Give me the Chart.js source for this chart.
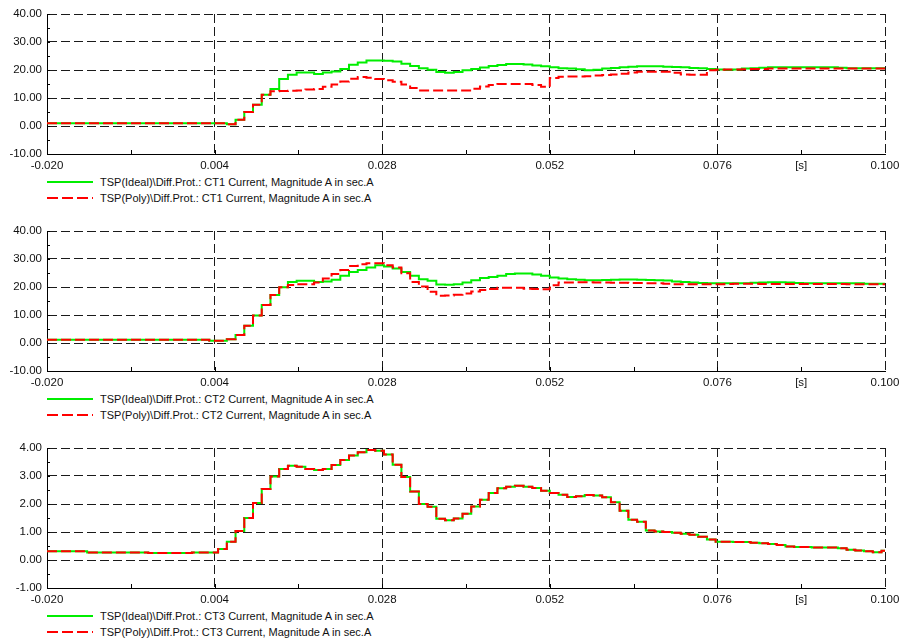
<!DOCTYPE html>
<html><head><meta charset="utf-8">
<script src="https://cdn.jsdelivr.net/npm/chart.js@4.4.1/dist/chart.umd.min.js"></script>
<style>
html,body{margin:0;padding:0;background:#fff;}
body{width:901px;height:639px;position:relative;overflow:hidden;font-family:'Liberation Sans',Arial,sans-serif;}
.box{position:absolute;left:0;width:901px;height:174px;}
.lg{position:absolute;left:0;width:901px;height:16px;}
.lg svg{position:absolute;left:47px;top:6px;}
.lg span{position:absolute;left:100px;top:0;font-size:11px;line-height:16px;color:#111;white-space:nowrap;}
</style></head><body>
<div class="box" style="top:0"><canvas id="c1"></canvas></div>
<div class="box" style="top:217px"><canvas id="c2"></canvas></div>
<div class="box" style="top:434px"><canvas id="c3"></canvas></div>
<div id="legends"></div>
<script>
// sample times [s]
const times = [-0.020,-0.01925,-0.018,-0.01675,-0.0155,-0.01425,-0.013,-0.01175,-0.0105,-0.00925,
-0.008,-0.00675,-0.0055,-0.00425,-0.003,-0.00175,-0.0005,0.00075,0.002,0.00325,
0.0045,0.00575,0.007,0.00825,0.0095,0.01075,0.012,0.01325,0.0145,0.01575,
0.017,0.01825,0.0195,0.02075,0.022,0.02325,0.0245,0.02575,0.027,0.02825,
0.0295,0.03075,0.032,0.03325,0.0345,0.03575,0.037,0.03825,0.0395,0.04075,
0.042,0.04325,0.0445,0.04575,0.047,0.04825,0.0495,0.05075,0.052,0.05325,
0.0545,0.05575,0.057,0.05825,0.0595,0.06075,0.062,0.06325,0.0645,0.06575,
0.067,0.06825,0.0695,0.07075,0.072,0.07325,0.0745,0.07575,0.077,0.07825,
0.0795,0.08075,0.082,0.08325,0.0845,0.08575,0.087,0.08825,0.0895,0.09075,
0.092,0.09325,0.0945,0.09575,0.097,0.09825,0.0995,0.100];

const ct1Ideal = [1.0,1.0,1.0,1.0,1.0,1.0,1.0,1.0,1.0,1.0,
1.0,1.0,1.0,1.0,1.0,1.0,1.0,1.0,1.0,1.0,
1.0,0.6,2.2,5.0,7.6,11.2,13.2,16.8,18.3,19.1,
19.1,18.6,19.1,19.5,20.4,21.9,22.7,23.4,23.4,23.3,
23.0,22.2,21.4,20.6,20.1,19.3,19.0,19.3,19.9,20.4,
20.9,21.4,21.8,22.1,22.1,22.0,21.6,21.3,21.0,20.6,
20.5,20.3,19.9,20.1,20.5,20.7,21.0,21.2,21.3,21.3,
21.3,21.2,21.1,21.0,20.7,20.6,20.4,20.2,20.1,20.2,
20.5,20.6,20.8,21.0,21.0,21.0,21.0,21.0,21.0,21.0,
21.0,20.8,20.6,20.6,20.6,20.6,20.6,20.5];

const ct1Poly = [1.0,1.0,1.0,1.0,1.0,1.0,1.0,1.0,1.0,1.0,
1.0,1.0,1.0,1.0,1.0,1.0,1.0,1.0,1.0,1.0,
1.0,0.6,2.2,5.0,7.6,11.2,12.4,12.5,12.6,12.7,
13.0,13.2,14.0,14.8,15.9,16.9,17.5,17.2,16.8,16.3,
15.8,14.8,13.6,12.7,12.7,12.7,12.7,12.7,12.7,13.3,
14.1,14.6,15.0,15.0,15.0,15.0,14.6,14.0,17.1,17.6,
17.7,17.7,17.8,18.0,18.2,18.4,18.7,19.1,19.4,19.4,
19.4,19.4,19.0,18.4,18.3,18.3,19.9,20.1,20.2,20.2,
20.3,20.4,20.4,20.5,20.5,20.5,20.5,20.5,20.5,20.5,
20.5,20.5,20.5,20.5,20.5,20.5,20.5,20.5];

const ct2Ideal = [1.2,1.2,1.2,1.2,1.2,1.2,1.2,1.2,1.2,1.2,
1.2,1.2,1.2,1.2,1.2,1.2,1.2,1.2,1.2,0.8,
0.8,1.3,2.9,6.2,9.8,13.6,17.1,19.9,21.8,22.2,
22.2,21.8,22.0,22.6,24.0,25.4,26.1,27.0,27.8,27.3,
26.6,25.4,24.0,22.8,22.2,20.9,20.8,21.0,21.6,22.4,
23.2,23.6,24.0,24.6,24.8,24.8,24.5,24.0,23.4,23.0,
22.8,22.6,22.4,22.4,22.5,22.6,22.7,22.7,22.6,22.5,
22.4,22.3,22.0,21.8,21.6,21.4,21.3,21.3,21.3,21.3,
21.3,21.5,21.6,21.7,21.7,21.6,21.4,21.3,21.3,21.3,
21.3,21.3,21.3,21.3,21.2,21.2,21.2,21.2];

const ct2Poly = [1.2,1.2,1.2,1.2,1.2,1.2,1.2,1.2,1.2,1.2,
1.2,1.2,1.2,1.2,1.2,1.2,1.2,1.2,1.2,0.8,
0.8,1.3,2.9,6.2,9.8,13.6,17.1,19.9,20.7,21.0,
21.0,21.6,23.0,24.6,26.1,27.5,28.1,28.5,28.5,27.8,
27.0,24.9,21.8,20.2,18.3,16.9,17.0,17.2,17.7,18.4,
18.9,19.3,19.7,19.7,19.7,19.4,19.3,19.2,20.6,21.6,
21.6,21.7,21.7,21.6,21.6,21.5,21.5,21.4,21.4,21.3,
21.3,21.2,21.0,21.0,21.0,21.0,21.0,21.0,21.1,21.2,
21.2,21.2,21.1,21.1,21.1,21.1,21.1,21.1,21.1,21.1,
21.1,21.1,21.0,21.0,21.0,21.0,21.0,21.0];

const ct3Ideal = [0.31,0.31,0.31,0.31,0.31,0.27,0.27,0.27,0.27,0.27,
0.27,0.27,0.25,0.25,0.25,0.25,0.25,0.27,0.27,0.27,
0.39,0.65,1.04,1.50,2.04,2.54,2.98,3.25,3.37,3.33,
3.25,3.21,3.25,3.39,3.57,3.73,3.85,3.93,3.90,3.77,
3.40,2.96,2.45,2.00,1.90,1.47,1.42,1.48,1.65,1.91,
2.15,2.39,2.56,2.62,2.65,2.62,2.57,2.47,2.39,2.33,
2.25,2.28,2.32,2.30,2.24,2.06,1.76,1.44,1.37,1.05,
1.02,1.00,0.97,0.94,0.90,0.83,0.73,0.65,0.65,0.64,
0.64,0.62,0.60,0.57,0.54,0.48,0.46,0.46,0.45,0.45,
0.45,0.42,0.37,0.34,0.31,0.28,0.33,0.33];

const ct3Poly = [0.31,0.31,0.31,0.31,0.31,0.27,0.27,0.27,0.27,0.27,
0.27,0.27,0.25,0.25,0.25,0.25,0.25,0.27,0.27,0.27,
0.39,0.65,1.04,1.50,2.04,2.54,2.98,3.25,3.37,3.33,
3.25,3.21,3.25,3.39,3.57,3.73,3.85,3.93,3.90,3.77,
3.40,2.96,2.45,2.00,1.90,1.47,1.42,1.48,1.65,1.91,
2.15,2.39,2.56,2.62,2.65,2.62,2.57,2.47,2.39,2.33,
2.25,2.28,2.32,2.30,2.24,2.06,1.76,1.44,1.37,1.05,
1.02,1.00,0.97,0.94,0.90,0.83,0.73,0.65,0.65,0.64,
0.64,0.62,0.60,0.57,0.54,0.48,0.46,0.46,0.45,0.45,
0.45,0.42,0.37,0.34,0.31,0.28,0.33,0.33];

const xTicks = [-0.020,-0.008,0.004,0.016,0.028,0.040,0.052,0.064,0.076,0.088,0.100];
const xTickLabels = ['-0.020','','0.004','','0.028','','0.052','','0.076','[s]','0.100'];
const xGridValues = [0.004,0.028,0.052,0.076,0.100];
const yTicksCT12 = [-10,0,10,20,30,40];
const yTickLabelsCT12 = ['-10.00','0.00','10.00','20.00','30.00','40.00'];
const yTicksCT3 = [-1,0,1,2,3,4];
const yTickLabelsCT3 = ['-1.00','0.00','1.00','2.00','3.00','4.00'];

const namesIdeal = ['TSP(Ideal)\\Diff.Prot.: CT1 Current, Magnitude A in sec.A',
                    'TSP(Ideal)\\Diff.Prot.: CT2 Current, Magnitude A in sec.A',
                    'TSP(Ideal)\\Diff.Prot.: CT3 Current, Magnitude A in sec.A'];
const namesPoly  = ['TSP(Poly)\\Diff.Prot.: CT1 Current, Magnitude A in sec.A',
                    'TSP(Poly)\\Diff.Prot.: CT2 Current, Magnitude A in sec.A',
                    'TSP(Poly)\\Diff.Prot.: CT3 Current, Magnitude A in sec.A'];

const GREEN = '#00ee00';
const RED = '#ff0000';
const RED_DASH = [10,4];
const GRID = '#1a1a1a';
const TEXT = '#111';
const FONT = {family:"'Liberation Sans', Arial, sans-serif", size:11.5};

function toXY(vals){ return times.map((t,i)=>({x:t,y:vals[i]})); }
const near = (a,b)=>Math.abs(a-b)<1e-9;

const minorTicks = {
  id:'minorTicks',
  afterDraw(chart){
    const {ctx, chartArea:ca, scales:{x,y}} = chart;
    ctx.save();
    ctx.strokeStyle = '#000';
    ctx.lineWidth = 1;
    ctx.setLineDash([]);
    xTicks.forEach((v,i)=>{
      if (i===0 || i===xTicks.length-1) return;
      const px = Math.round(x.getPixelForValue(v))+0.5;
      ctx.beginPath(); ctx.moveTo(px, ca.bottom); ctx.lineTo(px, ca.bottom-4); ctx.stroke();
    });
    const yt = chart.options.scales.y.tickValues;
    for (let i=0;i<yt.length;i++){
      const vals = [yt[i]];
      if (i<yt.length-1) vals.push((yt[i]+yt[i+1])/2);
      vals.forEach(v=>{
        const py = Math.round(y.getPixelForValue(v))+0.5;
        ctx.beginPath(); ctx.moveTo(ca.left, py); ctx.lineTo(ca.left+3, py); ctx.stroke();
      });
    }
    ctx.restore();
  }
};

function makeChart(id, ideal, poly, yTicks, yLabels, idx){
  return new Chart(document.getElementById(id), {
    type:'line',
    data:{datasets:[
      {label:namesIdeal[idx], data:toXY(ideal), borderColor:GREEN, backgroundColor:GREEN, borderWidth:2,
       stepped:true, pointRadius:0, fill:false, order:2},
      {label:namesPoly[idx], data:toXY(poly), borderColor:RED, backgroundColor:RED, borderWidth:2,
       borderDash:RED_DASH, stepped:true, pointRadius:0, fill:false, order:1}
    ]},
    options:{
      responsive:true, maintainAspectRatio:false, animation:false, devicePixelRatio:1,
      events:[],
      layout:{padding:{top:14,right:16,left:0,bottom:0}},
      plugins:{legend:{display:false}, tooltip:{enabled:false}},
      scales:{
        x:{type:'linear', min:xTicks[0], max:xTicks[xTicks.length-1],
          afterBuildTicks:s=>{ s.ticks = xTicks.map(v=>({value:v})); },
          afterFit:s=>{ s.height = 20; s.paddingLeft = 0; s.paddingRight = 0; },
          grid:{drawTicks:false, lineWidth:1,
            color:c=> (c.tick && xGridValues.some(v=>near(v,c.tick.value))) ? GRID : 'rgba(0,0,0,0)'},
          border:{display:true, color:'#000', width:1, dash:[9,4]},
          ticks:{autoSkip:false, maxRotation:0, minRotation:0, padding:5, color:TEXT, font:FONT,
            callback:(v,i)=>xTickLabels[i]}
        },
        y:{type:'linear', min:yTicks[0], max:yTicks[yTicks.length-1], tickValues:yTicks,
          afterBuildTicks:s=>{ s.ticks = yTicks.map(v=>({value:v})); },
          afterFit:s=>{ s.width = 47; s.paddingTop = 0; s.paddingBottom = 0; },
          grid:{drawTicks:false, lineWidth:1,
            color:c=> (c.tick && c.tick.value > yTicks[0]) ? GRID : 'rgba(0,0,0,0)'},
          border:{display:true, color:'#000', width:1, dash:[9,4]},
          ticks:{padding:5, color:TEXT, font:FONT, callback:(v,i)=>yLabels[i]}
        }
      }
    },
    plugins:[minorTicks]
  });
}

const charts = [
  makeChart('c1', ct1Ideal, ct1Poly, yTicksCT12, yTickLabelsCT12, 0),
  makeChart('c2', ct2Ideal, ct2Poly, yTicksCT12, yTickLabelsCT12, 1),
  makeChart('c3', ct3Ideal, ct3Poly, yTicksCT3, yTickLabelsCT3, 2)
];

// HTML legends below each chart, built from dataset labels
const boxTops = [0,217,434];
const lgHost = document.getElementById('legends');
charts.forEach((ch,ci)=>{
  ch.data.datasets.forEach((ds,di)=>{
    const row = document.createElement('div');
    row.className = 'lg';
    row.style.top = (boxTops[ci] + 154 + 19.5 + di*16) + 'px';
    const dash = ds.borderDash ? ` stroke-dasharray="11 4"` : '';
    row.innerHTML = `<svg width="48" height="4"><line x1="0" y1="2" x2="46" y2="2" stroke="${ds.borderColor}" stroke-width="2"${dash}/></svg>`;
    const sp = document.createElement('span');
    sp.textContent = ds.label;
    row.appendChild(sp);
    lgHost.appendChild(row);
  });
});
</script>
</body></html>
